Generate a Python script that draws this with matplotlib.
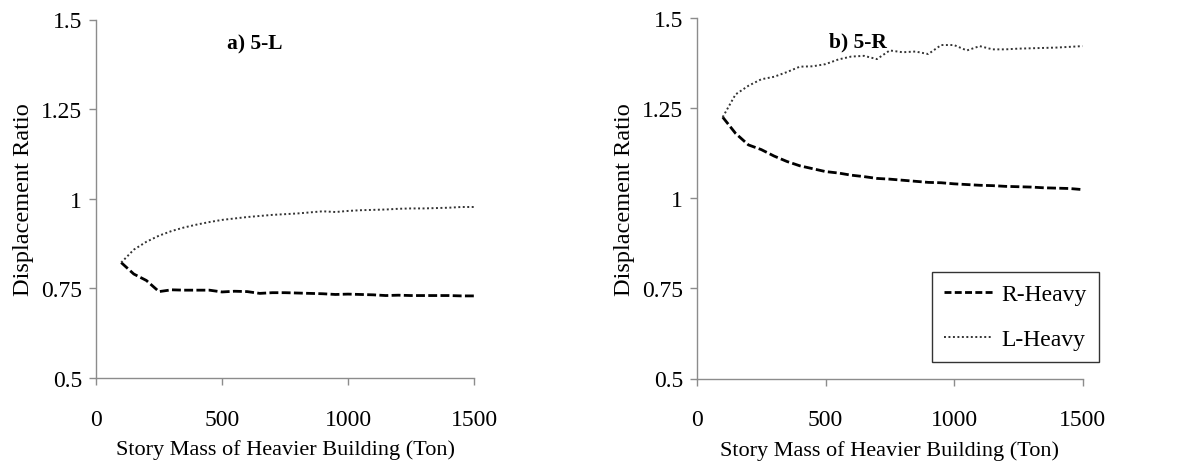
import matplotlib
matplotlib.use("Agg")
import matplotlib.pyplot as plt
from matplotlib.lines import Line2D

plt.rcParams['font.family'] = ['Liberation Serif', 'DejaVu Serif']

mass = [100, 150, 200, 250, 300, 350, 400, 450, 500, 550, 600, 650, 700, 750, 800,
        850, 900, 950, 1000, 1050, 1100, 1150, 1200, 1250, 1300, 1350, 1400, 1450, 1500]

a_l_heavy = [0.822, 0.858, 0.880, 0.897, 0.910, 0.920, 0.928, 0.935, 0.941, 0.945,
             0.949, 0.952, 0.955, 0.957, 0.959, 0.962, 0.965, 0.963, 0.966, 0.968,
             0.969, 0.970, 0.972, 0.973, 0.973, 0.974, 0.975, 0.977, 0.977]
a_r_heavy = [0.822, 0.790, 0.772, 0.741, 0.746, 0.745, 0.745, 0.745, 0.740, 0.742,
             0.741, 0.736, 0.738, 0.738, 0.737, 0.736, 0.735, 0.733, 0.734, 0.733,
             0.732, 0.730, 0.731, 0.730, 0.730, 0.730, 0.730, 0.729, 0.729]
b_r_heavy = [1.225, 1.180, 1.148, 1.135, 1.117, 1.102, 1.090, 1.082, 1.074, 1.070,
             1.064, 1.060, 1.055, 1.053, 1.050, 1.047, 1.044, 1.043, 1.040, 1.038,
             1.036, 1.035, 1.033, 1.032, 1.031, 1.029, 1.028, 1.027, 1.024]
b_l_heavy = [1.225, 1.288, 1.312, 1.330, 1.337, 1.350, 1.365, 1.366, 1.372, 1.385,
             1.393, 1.395, 1.386, 1.410, 1.405, 1.407, 1.400, 1.425, 1.425, 1.410,
             1.422, 1.413, 1.413, 1.415, 1.416, 1.417, 1.418, 1.420, 1.422]

titles = ["a) 5-L", "b) 5-R"]
x_ticks = [0, 500, 1000, 1500]
y_ticks = [0.5, 0.75, 1.0, 1.25, 1.5]
y_tick_labels = ["0.5", "0.75", "1", "1.25", "1.5"]
series_labels = ["R-Heavy", "L-Heavy"]

fig = plt.figure(figsize=(11.85, 4.64), dpi=100)
ax1 = fig.add_axes([96/1185, 1-379/464, 378/1185, 358.5/464])
ax2 = fig.add_axes([697/1185, 1-379.5/464, 385.5/1185, 360.5/464])

panels = [(ax1, a_r_heavy, a_l_heavy, titles[0]), (ax2, b_r_heavy, b_l_heavy, titles[1])]
title_pos = [(255/1185, 1-44/464), (858/1185, 1-42/464)]

fs_tick = 17
fs_x = 16
fs_y = 17.5
dash = (0, (3.2, 1.2))
dot = (0, (1, 1.3))
for i, (ax, rh, lh, t) in enumerate(panels):
    ax.plot(mass, rh, color='black', linestyle=dash, linewidth=2.0)
    ax.plot(mass, lh, color='#333333', linestyle=dot, linewidth=1.4)
    ax.set_xlim(0, 1500)
    ax.set_ylim(0.5, 1.5)
    ax.set_xticks(x_ticks)
    ax.set_yticks(y_ticks)
    ax.set_yticklabels(y_tick_labels)
    for s in ['top', 'right']:
        ax.spines[s].set_visible(False)
    for s in ['left', 'bottom']:
        ax.spines[s].set_color('#8c8c8c')
        ax.spines[s].set_linewidth(1.0)
    ax.tick_params(axis='both', colors='#8c8c8c', labelcolor='black', labelsize=fs_tick, width=1.0)
    ax.tick_params(axis='y', length=5, pad=5)
    ax.tick_params(axis='x', length=5, pad=17)
    ax.set_xlabel("Story Mass of Heavier Building (Ton)", fontsize=fs_x, labelpad=7)
    ax.set_ylabel("Displacement Ratio", fontsize=fs_y, labelpad=5)
    fig.text(title_pos[i][0], title_pos[i][1], t, fontsize=15.5, fontweight='bold',
             ha='center', va='center')

handles = [Line2D([], [], color='black', linestyle=(0, (2.5, 1.2)), linewidth=2.0),
           Line2D([], [], color='#333333', linestyle=dot, linewidth=1.4)]
leg = fig.legend(handles, series_labels, loc='upper left',
                 bbox_to_anchor=(932/1185, 1-273/464), borderaxespad=0,
                 fontsize=fs_tick, frameon=True, fancybox=False, edgecolor='black',
                 handlelength=2.1, labelspacing=1.0, borderpad=0.5, handletextpad=0.35)
leg.get_frame().set_linewidth(1.0)

fig.savefig("out.png", dpi=100)
